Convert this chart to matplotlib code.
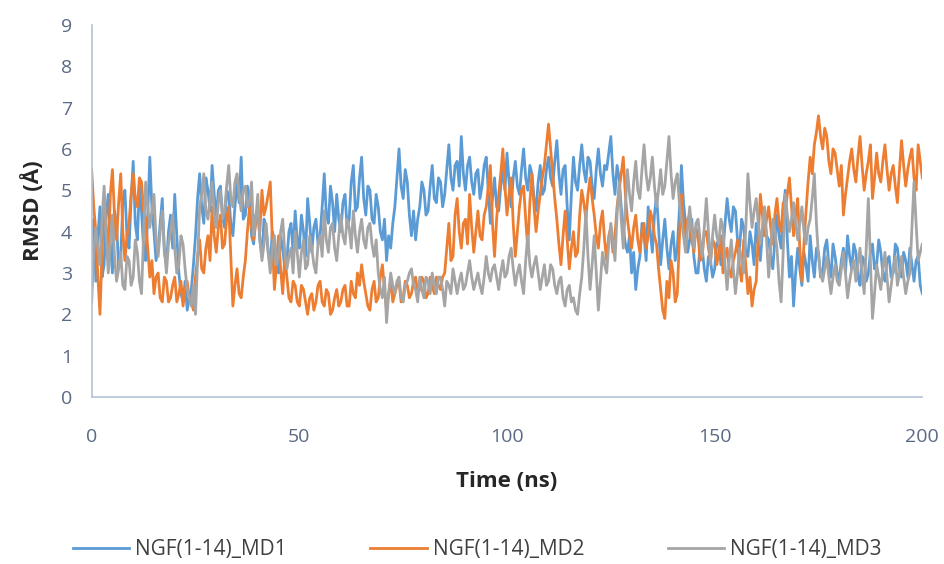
import matplotlib
matplotlib.use("Agg")
import matplotlib.pyplot as plt

# sampled every 0.5 ns, 0 .. 200 ns
time_ns = [i * 0.5 for i in range(401)]

md1 = [3.5, 4.3, 2.8, 3.9, 4.6, 2.9, 3.2, 4.4, 4.9, 3.7, 3.0, 4.5, 4.2, 3.1, 3.4, 4.7, 5.0, 3.9, 3.6, 4.8,
       5.7, 4.2, 3.8, 5.1, 4.5, 3.6, 3.3, 4.4, 5.8, 4.6, 4.0, 3.3, 3.6, 4.2, 4.8, 3.5, 3.2, 4.0, 4.4, 3.6,
       4.9, 3.9, 3.0, 2.5, 2.3, 2.8, 2.1, 2.4, 2.6, 3.2, 3.9, 4.8, 5.4, 4.6, 4.2, 5.3, 5.0, 4.5, 5.6, 4.9,
       4.3, 5.0, 5.1, 4.4, 4.1, 5.0, 4.9, 4.2, 3.9, 4.6, 5.2, 4.7, 5.8, 4.3, 4.4, 5.1, 4.8, 3.9, 3.7, 4.4,
       4.5, 3.8, 3.4, 4.3, 4.1, 3.5, 3.2, 4.0, 3.8, 3.1, 3.0, 3.9, 3.6, 3.1, 3.3, 4.0, 4.2, 3.5, 4.5, 3.8,
       3.6, 4.4, 4.0, 3.4, 4.8, 4.2, 3.5, 4.1, 4.3, 3.7, 3.9, 4.6, 5.4, 4.4, 4.2, 5.1, 4.7, 4.0, 4.9, 4.3,
       4.0, 4.7, 4.9, 4.1, 4.3, 5.2, 5.6, 4.5, 4.6, 5.3, 5.8, 4.8, 4.4, 5.1, 5.0, 4.3, 4.2, 4.9, 4.6, 4.0,
       3.8, 4.3, 3.3, 3.9, 3.6, 4.2, 4.6, 5.3, 6.0, 5.1, 4.8, 5.5, 5.2, 4.4, 3.9, 4.5, 3.8, 4.3, 4.6, 5.2,
       5.0, 4.4, 4.5, 5.1, 5.6, 4.8, 4.7, 5.3, 5.2, 4.6, 4.9, 5.5, 6.1, 5.3, 5.0, 5.6, 5.7, 5.1, 6.3, 5.4,
       5.0, 5.6, 5.8, 5.2, 4.9, 5.4, 5.5, 4.8, 5.1, 5.6, 5.8, 5.0, 4.2, 4.8, 5.3, 4.6, 4.5, 5.1, 5.5, 5.0,
       5.9, 5.2, 4.6, 5.3, 5.7, 5.1, 4.9, 5.5, 6.0, 5.3, 5.0, 5.6, 5.4, 4.8, 4.5, 5.2, 5.6, 4.9, 5.0, 5.5,
       5.8, 5.3, 5.1, 5.7, 6.2, 5.4, 4.9, 5.5, 5.6, 4.6, 3.8, 4.9, 5.8, 5.2, 5.0, 5.6, 6.1, 5.5, 5.2, 5.8,
       5.7, 5.1, 4.8, 5.5, 6.0, 5.4, 5.1, 5.6, 5.5, 5.9, 6.3, 5.4, 4.9, 5.6, 5.3, 4.6, 4.1, 3.7, 3.5, 3.9,
       3.0, 3.5, 2.6, 3.1, 3.4, 4.2, 3.9, 3.3, 4.6, 4.0, 3.5, 4.4, 4.9, 4.1, 3.2, 3.8, 4.3, 3.6, 3.1, 3.7,
       4.0, 3.3, 3.6, 4.5, 5.6, 4.7, 4.2, 3.5, 3.8, 4.3, 3.4, 3.0, 3.0, 3.7, 3.6, 3.1, 2.8, 3.4, 3.3, 2.9,
       3.1, 3.7, 3.8, 3.2, 3.5, 4.2, 4.8, 4.3, 4.0, 4.6, 4.5, 3.8, 3.6, 4.3, 4.1, 3.5, 3.4, 4.0, 3.7, 3.2,
       4.2, 3.7, 3.3, 4.0, 4.5, 3.9, 3.8, 3.4, 3.1, 3.8, 4.4, 3.9, 3.6, 4.5, 5.0, 3.8, 2.9, 3.4, 2.2, 3.0,
       3.6, 3.1, 2.7, 3.5, 3.2, 2.8, 3.9, 3.3, 2.9, 3.6, 3.5, 2.9, 3.0, 3.6, 3.8, 3.2, 2.9, 3.7, 3.4, 3.0,
       2.8, 3.3, 3.6, 3.0, 3.9, 3.4, 3.1, 3.7, 3.5, 2.9, 2.7, 3.4, 3.3, 2.8, 3.0, 3.5, 3.7, 3.1, 3.2, 3.8,
       3.5, 3.0, 2.8, 3.3, 3.4, 2.9, 3.0, 3.7, 3.6, 3.1, 2.9, 3.5, 3.3, 2.9, 3.6, 3.2, 2.8, 3.3, 3.4, 2.7,
       2.5]

md2 = [5.5, 4.6, 4.0, 2.9, 2.0, 3.5, 4.8, 4.1, 3.4, 4.9, 5.5, 4.4, 3.8, 4.7, 5.4, 4.0, 3.3, 3.9, 4.2, 4.9,
       5.4, 4.8, 4.6, 5.3, 5.2, 4.5, 4.3, 3.6, 2.9, 3.3, 2.5, 2.9, 3.0, 2.4, 2.3, 2.9, 2.8, 2.3, 2.4, 2.7,
       2.9, 2.3, 2.5, 2.8, 2.2, 2.6, 2.8, 2.4, 2.3, 2.1, 2.9, 3.4, 3.8, 3.1, 3.0, 3.6, 3.9, 3.3, 4.6, 3.9,
       3.5, 4.1, 4.4, 3.6, 3.7, 4.3, 4.6, 3.4, 2.2, 2.7, 3.1, 2.5, 2.4, 2.9, 3.3, 4.0, 4.6, 4.1, 3.8, 4.2,
       4.5, 4.0, 5.0, 4.4, 4.6, 4.9, 5.2, 3.8, 2.6, 3.2, 3.9, 3.1, 2.5, 3.4, 2.9, 2.4, 2.3, 2.8, 2.7, 2.3,
       2.2, 2.7, 2.6, 2.3, 2.0, 2.4, 2.5, 2.1, 2.3, 2.7, 2.8, 2.3, 2.2, 2.6, 2.5, 2.0, 2.1, 2.4, 2.6, 2.2,
       2.3, 2.6, 2.7, 2.2, 2.2, 2.8, 2.5, 2.4, 3.0, 2.7, 3.2, 2.8, 2.5, 2.2, 2.1, 2.6, 2.8, 2.3, 2.4, 2.9,
       3.2, 2.6, 2.1, 2.5, 2.8, 2.3, 2.5, 2.7, 2.8, 2.3, 2.4, 2.8, 2.7, 2.4, 2.5, 2.8, 2.9, 2.5, 2.6, 2.9,
       2.8, 2.4, 2.5, 2.9, 2.7, 2.5, 2.9, 2.7, 2.6, 2.9, 3.0, 3.6, 4.2, 3.3, 3.4, 4.4, 4.8, 4.0, 3.6, 4.2,
       4.3, 3.7, 4.9, 4.1, 3.5, 4.0, 4.5, 3.9, 3.8, 4.4, 4.6, 5.1, 5.6, 4.2, 3.4, 4.3, 4.9, 5.4, 6.0, 5.1,
       4.4, 4.9, 5.3, 4.2, 3.4, 4.0, 4.6, 5.0, 5.1, 4.3, 3.6, 4.7, 5.4, 4.6, 4.0, 4.5, 4.9, 5.3, 5.6, 6.1,
       6.6, 6.0, 5.4, 4.8, 4.3, 3.7, 3.2, 3.9, 4.5, 3.8, 3.1, 3.6, 4.0, 3.4, 3.5, 4.4, 5.0, 4.7, 4.3, 4.9,
       5.3, 4.8, 4.4, 3.9, 3.6, 4.2, 4.5, 3.8, 3.3, 3.9, 4.1, 3.5, 3.9, 4.6, 5.0, 5.4, 5.8, 4.9, 4.3, 3.9,
       3.6, 4.1, 4.4, 3.8, 3.5, 4.0, 4.2, 3.6, 3.9, 4.5, 4.3, 3.9, 3.7, 3.1, 2.6, 2.1, 1.9, 2.8, 2.4, 3.3,
       3.0, 2.3, 2.5, 3.8, 4.9, 4.2, 3.7, 4.3, 4.4, 3.8, 3.5, 4.1, 3.9, 3.3, 3.4, 4.0, 4.0, 3.6, 3.3, 3.8,
       3.7, 3.2, 3.5, 3.9, 3.0, 3.4, 3.6, 3.1, 2.9, 3.3, 3.5, 3.8, 3.1, 2.8, 3.8, 3.2, 2.5, 2.9, 2.2, 2.6,
       2.8, 3.9, 4.9, 4.4, 3.9, 4.3, 4.6, 4.1, 3.7, 4.4, 4.8, 4.2, 4.0, 4.7, 4.5, 4.9, 5.3, 4.6, 3.9, 4.4,
       4.8, 3.6, 2.8, 3.7, 4.5, 5.2, 5.8, 5.4, 6.1, 6.4, 6.8, 6.3, 6.0, 6.5, 6.3, 5.7, 5.4, 6.0, 5.9, 5.5,
       5.1, 5.6, 4.4, 4.9, 5.3, 5.7, 6.0, 5.5, 5.2, 5.8, 6.3, 5.6, 5.0, 5.4, 5.7, 6.1, 4.8, 5.3, 5.9, 5.4,
       5.2, 5.7, 6.1, 5.5, 5.0, 5.4, 5.6, 5.1, 4.7, 5.5, 6.2, 5.6, 5.1, 5.5, 5.8, 6.0, 5.3, 5.0, 6.1, 5.7,
       5.3]

md3 = [2.3, 3.5, 4.1, 3.6, 3.2, 4.3, 5.1, 3.9, 3.0, 3.8, 4.4, 3.4, 2.8, 3.1, 3.5, 2.7, 2.6, 3.4, 3.3, 2.7,
       2.9, 3.8, 3.5, 2.8, 2.5, 3.9, 5.2, 4.6, 4.1, 4.5, 4.9, 3.8, 3.4, 4.0, 4.5, 3.6, 3.0, 3.7, 4.0, 4.4,
       3.6, 3.0, 3.2, 3.9, 3.7, 3.1, 2.6, 2.4, 2.2, 2.7, 2.0, 3.3, 4.6, 4.9, 5.4, 4.5, 4.3, 4.8, 5.2, 4.4,
       4.1, 4.7, 5.0, 4.3, 4.5, 5.1, 5.6, 4.8, 4.6, 5.2, 5.4, 4.9, 4.5, 5.0, 5.1, 4.6, 4.7, 5.2, 3.9, 4.3,
       4.9, 3.8, 3.3, 3.7, 4.2, 3.5, 3.0, 3.6, 3.9, 3.2, 3.4, 4.0, 4.3, 3.5, 3.1, 3.4, 3.6, 3.0, 4.0, 3.5,
       2.9, 3.5, 3.8, 3.1, 3.2, 3.9, 3.6, 3.2, 3.0, 3.7, 3.9, 3.4, 4.5, 3.8, 3.5, 4.1, 4.2, 3.6, 3.3, 3.9,
       4.4, 3.9, 3.7, 4.3, 4.1, 3.6, 4.5, 3.9, 3.5, 4.0, 4.3, 3.8, 3.6, 4.1, 4.2, 3.7, 3.4, 3.8, 3.0, 2.6,
       2.4, 2.9, 1.8, 2.5, 3.0, 2.7, 2.5, 2.8, 2.9, 2.4, 2.3, 2.7, 2.8, 3.0, 3.1, 2.7, 2.6, 2.3, 2.9, 2.6,
       2.4, 2.9, 2.8, 2.5, 3.0, 2.7, 2.5, 2.9, 2.9, 2.6, 2.2, 2.8, 2.7, 2.5, 3.1, 2.8, 2.5, 2.8, 3.0, 2.6,
       2.7, 3.0, 3.3, 2.9, 2.6, 2.8, 3.0, 2.7, 2.5, 2.9, 3.4, 3.0, 2.8, 3.1, 3.2, 2.9, 2.6, 3.0, 3.3, 2.9,
       3.0, 3.4, 3.6, 3.1, 2.7, 3.0, 3.2, 2.8, 2.5, 3.3, 3.9, 3.2, 2.9, 3.2, 3.4, 3.0, 2.6, 2.9, 3.2, 2.7,
       2.8, 3.2, 3.1, 2.7, 2.5, 2.8, 2.9, 2.4, 2.2, 2.6, 2.7, 2.3, 2.4, 2.1, 2.0, 2.5, 2.9, 3.6, 4.5, 3.4,
       2.6, 3.2, 3.9, 3.0, 2.1, 2.8, 3.5, 3.2, 3.0, 3.7, 4.2, 3.8, 3.3, 4.4, 5.2, 4.3, 3.6, 4.6, 5.5, 4.9,
       4.5, 5.2, 5.7, 5.0, 4.8, 5.5, 6.1, 5.4, 5.0, 5.3, 5.8, 5.1, 4.6, 5.0, 5.5, 4.9, 5.1, 5.7, 6.3, 5.4,
       4.8, 5.2, 5.4, 4.7, 4.3, 3.9, 3.5, 4.1, 4.6, 4.0, 3.6, 4.2, 4.3, 3.8, 3.4, 4.1, 4.8, 4.0, 3.2, 3.9,
       4.4, 3.9, 3.7, 4.3, 4.1, 3.2, 2.6, 3.3, 3.8, 3.1, 2.5, 3.0, 3.6, 3.3, 3.0, 4.1, 5.4, 4.7, 4.1, 4.5,
       4.8, 4.2, 3.7, 4.1, 4.6, 3.8, 2.9, 3.6, 4.3, 4.0, 3.6, 2.8, 2.3, 3.5, 4.9, 4.4, 4.0, 4.3, 4.7, 4.2,
       3.8, 4.2, 4.6, 4.0, 3.7, 4.1, 4.3, 4.8, 5.4, 4.2, 3.4, 3.0, 2.8, 3.1, 3.4, 2.9, 2.5, 2.9, 3.2, 2.8,
       2.7, 3.1, 3.5, 3.0, 2.4, 2.8, 3.1, 3.3, 2.8, 3.2, 3.6, 3.0, 2.5, 3.6, 4.8, 3.3, 1.9, 2.5, 3.2, 2.9,
       2.6, 3.1, 3.5, 2.9, 2.3, 2.7, 3.1, 3.4, 2.7, 3.0, 3.4, 2.9, 2.5, 2.8, 3.0, 4.1, 5.2, 4.2, 3.3, 3.5,
       3.7]

series_names = ["NGF(1-14)_MD1", "NGF(1-14)_MD2", "NGF(1-14)_MD3"]
colors = ["#5B9BD5", "#ED7D31", "#A5A5A5"]
x_ticks = [0, 50, 100, 150, 200]
y_ticks = list(range(0, 10))

plt.rcParams['font.family'] = ['Open Sans', 'DejaVu Sans']

fig = plt.figure(figsize=(9.45, 5.64), dpi=100)
ax = fig.add_axes([0.097, 0.296, 0.879, 0.660])

for vals, name, c in zip([md1, md2, md3], series_names, colors):
    n = min(len(vals), len(time_ns))
    ax.plot(time_ns[:n], vals[:n], color=c, lw=2.0, label=name)

ax.set_xlim(0, 200)
ax.set_ylim(0, 9)
ax.set_xticks(x_ticks)
ax.set_yticks(y_ticks)
tick_color = "#5A6A85"
ax.tick_params(axis='both', length=0, labelsize=14, colors=tick_color)
ax.tick_params(axis='x', pad=22)
ax.tick_params(axis='y', pad=14)
for s in ['top', 'right']:
    ax.spines[s].set_visible(False)
for s in ['left', 'bottom']:
    ax.spines[s].set_color("#B4C2D8")
    ax.spines[s].set_linewidth(1.2)

ax.set_xlabel("Time (ns)", fontsize=16, fontweight='bold', color="#262626", labelpad=18)
ax.set_ylabel("RMSD (Å)", fontsize=16, fontweight='bold', color="#262626", labelpad=12)

leg = fig.legend(*ax.get_legend_handles_labels(), loc='center', bbox_to_anchor=(0.505, 0.025),
                 ncol=3, frameon=False, fontsize=15, handlelength=2.7, columnspacing=4.0,
                 handletextpad=0.3, labelcolor="#404040")
for h in leg.get_lines():
    h.set_linewidth(2.0)

fig.savefig("out.png", dpi=100)
